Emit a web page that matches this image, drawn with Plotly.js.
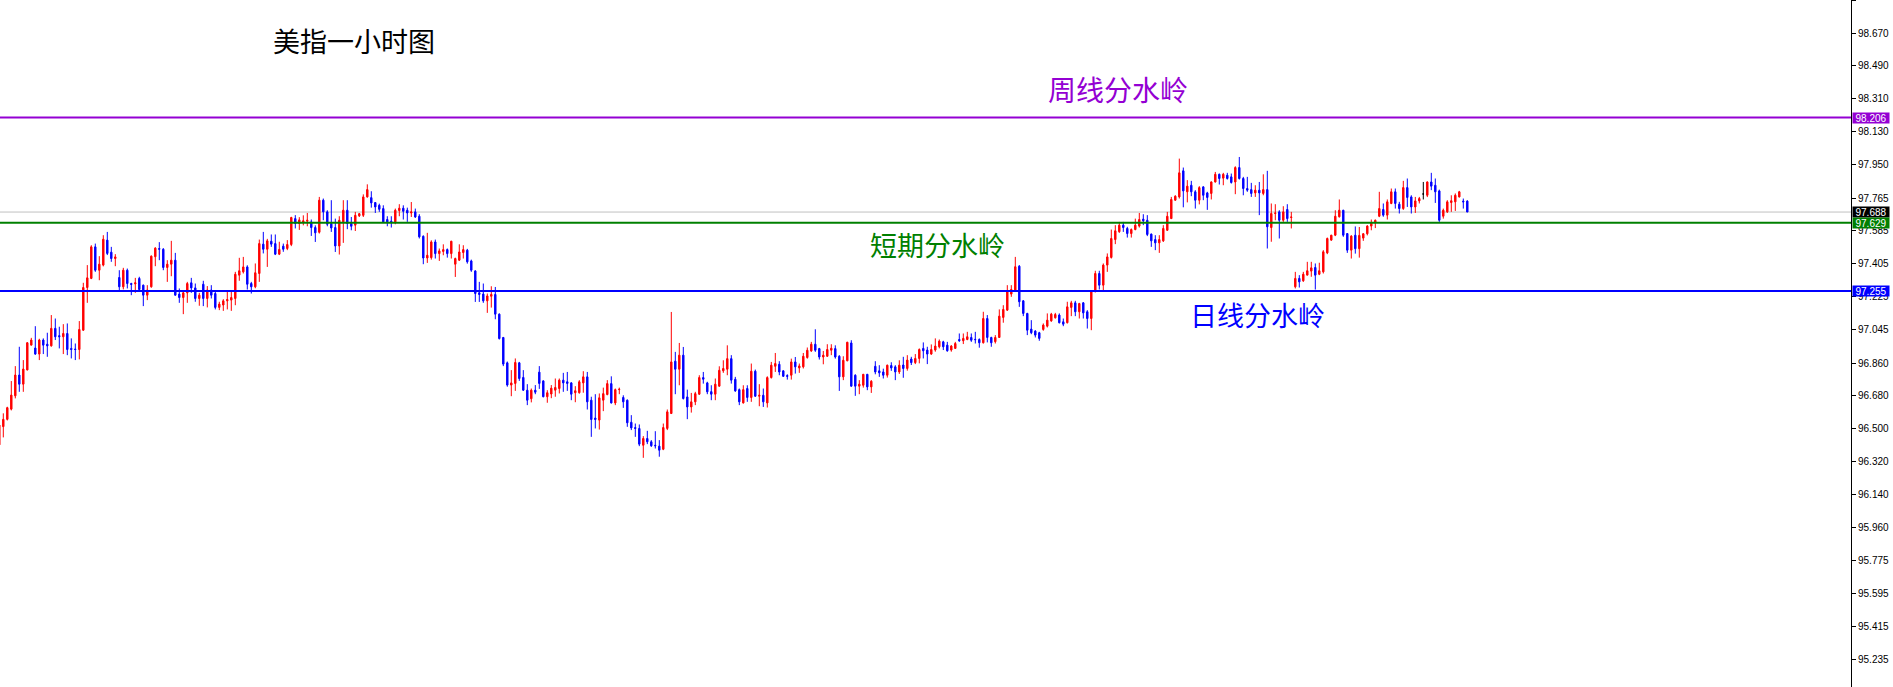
<!DOCTYPE html>
<html><head><meta charset="utf-8">
<script src="https://cdn.plot.ly/plotly-3.0.1.min.js"></script>
<style>html,body{margin:0;padding:0;background:#fff;overflow:hidden}#chart{width:1893px;height:687px}</style>
</head><body><div id="chart"></div>
<script>
// Hourly candles (oldest -> newest)
const OPEN = [
96.411,96.511,96.551,96.607,96.680,96.794,96.744,96.822,96.958,96.942,
96.909,96.986,96.963,96.954,97.050,97.010,97.004,97.022,96.940,96.937,
96.934,97.040,97.274,97.324,97.497,97.369,97.397,97.534,97.468,97.433,
97.329,97.278,97.369,97.296,97.294,97.324,97.287,97.232,97.278,97.443,
97.488,97.484,97.384,97.402,97.424,97.238,97.219,97.245,97.300,97.272,
97.214,97.292,97.214,97.260,97.241,97.165,97.178,97.201,97.205,97.214,
97.342,97.360,97.387,97.296,97.278,97.351,97.512,97.484,97.528,97.515,
97.457,97.501,97.488,97.510,97.652,97.625,97.632,97.638,97.634,97.603,
97.577,97.753,97.689,97.625,97.603,97.502,97.634,97.698,97.625,97.616,
97.667,97.670,97.771,97.767,97.740,97.725,97.707,97.647,97.638,97.634,
97.696,97.709,97.698,97.683,97.689,97.665,97.555,97.436,97.438,97.524,
97.460,97.472,97.482,97.460,97.402,97.424,97.466,97.479,97.420,97.365,
97.245,97.238,97.201,97.226,97.236,97.128,97.000,96.861,96.739,96.748,
96.861,96.781,96.711,96.664,96.711,96.810,96.762,96.675,96.690,96.711,
96.720,96.766,96.757,96.751,96.697,96.697,96.751,96.784,96.656,96.558,
96.547,96.656,96.687,96.747,96.641,96.714,96.671,96.656,96.535,96.506,
96.501,96.409,96.446,96.428,96.409,96.404,96.387,96.501,96.583,96.870,
96.826,96.903,96.674,96.619,96.647,96.689,96.780,96.751,96.703,96.689,
96.733,96.817,96.826,96.884,96.771,96.714,96.641,96.720,96.671,96.815,
96.678,96.683,96.641,96.780,96.842,96.853,96.817,96.791,96.793,96.866,
96.833,96.839,96.890,96.926,96.963,96.939,96.893,96.897,96.930,96.939,
96.897,96.784,96.872,96.970,96.793,96.733,96.738,96.798,96.729,96.842,
96.817,96.811,96.793,96.846,96.839,96.811,96.849,96.830,96.882,96.862,
96.885,96.940,96.931,96.909,96.931,96.949,96.976,96.958,96.931,96.940,
96.989,96.982,96.989,97.000,96.990,96.989,96.971,97.104,97.000,96.977,
97.000,97.110,97.150,97.238,97.260,97.391,97.201,97.132,97.046,97.035,
97.026,97.044,97.062,97.091,97.108,97.123,97.086,97.081,97.165,97.190,
97.141,97.190,97.141,97.104,97.251,97.351,97.287,97.397,97.439,97.537,
97.580,97.616,97.598,97.570,97.592,97.611,97.649,97.643,97.567,97.537,
97.519,97.530,97.588,97.652,97.753,97.771,97.914,97.799,97.835,97.799,
97.753,97.826,97.793,97.790,97.853,97.895,97.874,97.890,97.881,97.853,
97.932,97.872,97.817,97.811,97.793,97.808,97.790,97.811,97.603,97.680,
97.689,97.643,97.702,97.658,97.278,97.324,97.311,97.342,97.364,97.384,
97.347,97.360,97.464,97.534,97.561,97.662,97.698,97.570,97.479,97.561,
97.487,97.545,97.569,97.611,97.629,97.665,97.702,97.671,97.735,97.799,
97.731,97.707,97.822,97.771,97.716,97.749,97.787,97.780,97.853,97.835,
97.804,97.665,97.689,97.740,97.744,97.771,97.748,97.748];
const HIGH = [
96.525,96.584,96.620,96.761,96.843,96.949,96.876,96.975,96.998,97.062,
96.993,96.995,97.026,97.123,97.104,97.059,97.073,97.077,96.995,96.967,
97.090,97.300,97.397,97.506,97.515,97.446,97.561,97.579,97.497,97.457,
97.369,97.382,97.378,97.300,97.327,97.333,97.290,97.287,97.450,97.495,
97.523,97.490,97.424,97.530,97.464,97.269,97.260,97.305,97.327,97.296,
97.245,97.311,97.282,97.287,97.250,97.196,97.210,97.260,97.260,97.360,
97.437,97.442,97.396,97.305,97.406,97.537,97.579,97.541,97.565,97.565,
97.525,97.515,97.534,97.662,97.671,97.660,97.670,97.683,97.647,97.615,
97.771,97.762,97.698,97.753,97.652,97.665,97.753,97.753,97.661,97.689,
97.683,97.785,97.840,97.802,97.743,97.734,97.725,97.665,97.665,97.707,
97.731,97.725,97.712,97.743,97.707,97.676,97.560,97.574,97.533,97.537,
97.488,97.511,97.488,97.530,97.438,97.511,97.506,97.486,97.427,97.369,
97.305,97.296,97.241,97.281,97.277,97.132,97.003,96.868,96.821,96.885,
96.866,96.821,96.744,96.720,96.739,96.843,96.765,96.711,96.739,96.775,
96.775,96.806,96.811,96.755,96.733,96.766,96.815,96.811,96.675,96.689,
96.693,96.725,96.766,96.787,96.720,96.725,96.683,96.660,96.574,96.528,
96.523,96.459,96.488,96.437,96.486,96.437,96.528,96.605,97.140,96.921,
96.970,96.948,96.714,96.696,96.702,96.793,96.811,96.757,96.738,96.775,
96.842,96.875,96.957,96.903,96.784,96.720,96.738,96.738,96.857,96.824,
96.744,96.720,96.787,96.866,96.915,96.870,96.820,96.798,96.884,96.893,
96.857,96.915,96.945,96.976,97.045,96.943,96.926,96.963,96.963,96.957,
96.903,96.897,96.976,96.985,96.798,96.766,96.800,96.800,96.766,96.870,
96.848,96.829,96.851,96.864,96.848,96.875,96.894,96.903,96.894,96.909,
96.940,96.973,96.949,96.962,96.995,96.989,96.982,96.976,96.958,96.976,
97.022,97.022,97.031,97.022,97.031,96.995,97.141,97.123,97.004,97.013,
97.154,97.177,97.287,97.287,97.442,97.397,97.205,97.135,97.095,97.040,
97.031,97.077,97.132,97.135,97.135,97.132,97.104,97.196,97.201,97.201,
97.190,97.194,97.150,97.260,97.366,97.366,97.406,97.461,97.592,97.616,
97.634,97.634,97.607,97.598,97.652,97.683,97.676,97.671,97.570,97.561,
97.561,97.616,97.689,97.771,97.780,97.981,97.932,97.863,97.859,97.808,
97.830,97.830,97.799,97.856,97.908,97.899,97.903,97.903,97.899,97.939,
97.990,97.881,97.881,97.848,97.835,97.853,97.895,97.914,97.735,97.731,
97.698,97.720,97.731,97.689,97.360,97.342,97.360,97.415,97.415,97.406,
97.410,97.479,97.548,97.563,97.698,97.757,97.700,97.572,97.561,97.609,
97.606,97.572,97.616,97.647,97.647,97.799,97.735,97.757,97.817,97.817,
97.744,97.859,97.872,97.780,97.771,97.771,97.853,97.856,97.903,97.872,
97.811,97.707,97.753,97.780,97.790,97.804,97.762,97.753];
const LOW = [
96.400,96.452,96.545,96.600,96.666,96.702,96.702,96.820,96.958,96.905,
96.876,96.909,96.894,96.950,96.986,96.940,96.909,96.903,96.885,96.876,
96.880,97.036,97.190,97.320,97.360,97.314,97.390,97.452,97.415,97.391,
97.260,97.264,97.269,97.232,97.245,97.260,97.172,97.205,97.273,97.391,
97.424,97.369,97.305,97.336,97.230,97.190,97.128,97.190,97.245,97.196,
97.174,97.172,97.165,97.214,97.154,97.150,97.146,97.154,97.146,97.177,
97.311,97.351,97.263,97.241,97.270,97.305,97.461,97.387,97.497,97.452,
97.452,97.470,97.479,97.501,97.598,97.590,97.615,97.610,97.557,97.524,
97.570,97.643,97.610,97.579,97.469,97.455,97.519,97.594,97.588,97.584,
97.661,97.661,97.767,97.712,97.683,97.689,97.630,97.610,97.603,97.621,
97.665,97.647,97.634,97.661,97.656,97.543,97.402,97.409,97.427,97.433,
97.420,97.451,97.438,97.433,97.332,97.420,97.433,97.405,97.360,97.195,
97.195,97.190,97.135,97.164,97.100,96.989,96.843,96.730,96.678,96.707,
96.762,96.707,96.629,96.644,96.689,96.718,96.672,96.642,96.667,96.675,
96.693,96.702,96.707,96.656,96.645,96.692,96.697,96.605,96.455,96.501,
96.495,96.596,96.683,96.638,96.629,96.689,96.614,96.510,96.492,96.455,
96.404,96.340,96.415,96.400,96.391,96.346,96.382,96.492,96.580,96.689,
96.738,96.660,96.552,96.588,96.629,96.685,96.747,96.689,96.656,96.656,
96.730,96.806,96.793,96.747,96.702,96.629,96.638,96.647,96.647,96.674,
96.623,96.619,96.616,96.775,96.811,96.793,96.784,96.769,96.769,96.802,
96.806,96.830,96.884,96.921,96.921,96.879,96.853,96.893,96.903,96.884,
96.707,96.766,96.870,96.730,96.680,96.689,96.725,96.711,96.696,96.798,
96.784,96.775,96.780,96.817,96.766,96.800,96.779,96.818,96.849,96.854,
96.858,96.885,96.854,96.905,96.922,96.940,96.931,96.922,96.922,96.940,
96.976,96.964,96.985,96.976,96.967,96.944,96.967,96.973,96.949,96.967,
96.998,97.081,97.146,97.223,97.255,97.168,97.117,97.013,97.018,97.000,
96.982,97.037,97.055,97.086,97.104,97.077,97.062,97.077,97.117,97.117,
97.104,97.104,97.049,97.040,97.248,97.263,97.251,97.360,97.433,97.512,
97.574,97.579,97.548,97.548,97.588,97.603,97.616,97.556,97.497,97.479,
97.464,97.524,97.585,97.650,97.750,97.762,97.714,97.741,97.775,97.707,
97.730,97.753,97.700,97.757,97.850,97.839,97.835,97.866,97.844,97.786,
97.866,97.780,97.799,97.771,97.771,97.671,97.780,97.488,97.525,97.643,
97.543,97.634,97.634,97.598,97.269,97.274,97.305,97.342,97.333,97.263,
97.342,97.351,97.457,97.530,97.556,97.658,97.552,97.464,97.433,97.460,
97.438,97.530,97.560,97.588,97.600,97.660,97.662,97.647,97.731,97.707,
97.680,97.700,97.716,97.680,97.683,97.735,97.757,97.770,97.808,97.738,
97.634,97.652,97.683,97.689,97.694,97.768,97.707,97.688];
const CLOSE = [
96.520,96.551,96.615,96.684,96.794,96.744,96.827,96.971,96.986,96.909,
96.986,96.958,96.954,97.050,97.004,97.004,97.022,96.934,96.934,96.934,
97.044,97.274,97.327,97.497,97.369,97.402,97.539,97.461,97.433,97.442,
97.278,97.369,97.296,97.291,97.300,97.263,97.232,97.260,97.446,97.490,
97.484,97.384,97.402,97.424,97.232,97.219,97.245,97.296,97.272,97.214,
97.232,97.214,97.260,97.232,97.165,97.183,97.201,97.208,97.219,97.347,
97.366,97.387,97.292,97.278,97.355,97.515,97.484,97.530,97.512,97.457,
97.483,97.484,97.510,97.658,97.625,97.645,97.640,97.643,97.603,97.574,
97.753,97.689,97.621,97.601,97.502,97.643,97.698,97.625,97.610,97.670,
97.679,97.771,97.811,97.738,97.716,97.703,97.634,97.634,97.634,97.698,
97.709,97.692,97.683,97.689,97.661,97.552,97.436,97.451,97.524,97.460,
97.475,97.482,97.460,97.528,97.433,97.469,97.482,97.415,97.369,97.241,
97.236,97.201,97.228,97.236,97.128,96.994,96.854,96.739,96.751,96.863,
96.775,96.711,96.656,96.711,96.700,96.748,96.675,96.697,96.722,96.726,
96.766,96.751,96.748,96.689,96.708,96.757,96.784,96.647,96.550,96.550,
96.669,96.692,96.747,96.641,96.714,96.716,96.647,96.532,96.504,96.501,
96.415,96.446,96.428,96.406,96.406,96.382,96.506,96.592,96.866,96.826,
96.903,96.665,96.619,96.647,96.692,96.780,96.771,96.702,96.689,96.744,
96.820,96.830,96.884,96.766,96.707,96.647,96.714,96.671,96.815,96.678,
96.683,96.647,96.780,96.848,96.857,96.811,96.787,96.787,96.866,96.839,
96.844,96.897,96.930,96.963,96.930,96.893,96.903,96.934,96.941,96.893,
96.784,96.875,96.974,96.733,96.733,96.744,96.798,96.729,96.760,96.811,
96.806,96.793,96.848,96.833,96.811,96.848,96.830,96.876,96.862,96.885,
96.934,96.927,96.909,96.934,96.953,96.980,96.949,96.927,96.953,96.967,
96.982,96.995,97.004,96.985,96.988,96.971,97.104,97.000,96.971,97.000,
97.117,97.154,97.251,97.263,97.388,97.196,97.132,97.040,97.026,97.013,
96.995,97.068,97.095,97.128,97.126,97.081,97.073,97.168,97.190,97.141,
97.186,97.135,97.104,97.256,97.351,97.287,97.397,97.442,97.543,97.585,
97.616,97.603,97.570,97.592,97.616,97.647,97.640,97.565,97.530,97.519,
97.537,97.598,97.665,97.757,97.775,97.903,97.804,97.830,97.799,97.753,
97.822,97.780,97.768,97.853,97.895,97.872,97.895,97.872,97.850,97.932,
97.872,97.817,97.808,97.790,97.808,97.793,97.811,97.607,97.680,97.683,
97.643,97.689,97.652,97.661,97.324,97.305,97.347,97.366,97.382,97.342,
97.366,97.470,97.543,97.561,97.665,97.698,97.561,97.479,97.556,97.487,
97.560,97.569,97.611,97.629,97.643,97.707,97.671,97.744,97.799,97.735,
97.707,97.822,97.768,97.716,97.749,97.762,97.787,97.853,97.830,97.799,
97.643,97.698,97.744,97.750,97.780,97.799,97.744,97.688];

// Price-axis tick labels
const TICK_VALUES = [98.850,98.670,98.490,98.310,98.130,97.950,97.765,97.585,97.405,97.225,
  97.045,96.860,96.680,96.500,96.320,96.140,95.960,95.775,95.595,95.415,95.235];

// Horizontal levels
const LEVEL_VALUES = [98.206, 97.688, 97.629, 97.255];
const LEVEL_COLORS = ['#9400D3', '#C0C0C0', '#008000', '#0000FF'];
const LEVEL_WIDTHS = [2, 1, 2, 2];
const LEVEL_TAG_BG = ['#9400D3', '#000000', '#008000', '#0000FF'];

// Text labels on the chart
const LABEL_TEXTS = ['美指一小时图', '周线分水岭', '短期分水岭', '日线分水岭'];
const LABEL_COLORS = ['#000000', '#9400D3', '#008000', '#0000FF'];

// ---- layout geometry (pixels) ----
const PLOT_W = 1851, PLOT_H = 687;
const LABEL_POS = [[272, 40.5, 27], [1047, 89, 28], [869, 244.5, 27], [1189, 314, 27]];

const idx = OPEN.map((_, i) => i);
const mainIds = idx.filter(i => OPEN[i] !== CLOSE[i]);
const dojiIds = idx.filter(i => OPEN[i] === CLOSE[i]);
const pick = (arr, ids) => ids.map(i => arr[i]);

function candle(ids, upColor, downColor) {
  return {
    type: 'candlestick',
    x: ids,
    open: pick(OPEN, ids), high: pick(HIGH, ids), low: pick(LOW, ids), close: pick(CLOSE, ids),
    increasing: {line: {color: upColor, width: 1}, fillcolor: upColor},
    decreasing: {line: {color: downColor, width: 1}, fillcolor: downColor},
    whiskerwidth: 0, hoverinfo: 'skip', showlegend: false
  };
}
const traces = [candle(mainIds, '#FF0000', '#0000FF')];
if (dojiIds.length) traces.push(candle(dojiIds, '#000000', '#000000'));

const shapes = LEVEL_VALUES.map((v, i) => ({
  type: 'line', xref: 'paper', x0: 0, x1: 1, yref: 'y', y0: v, y1: v,
  line: {color: LEVEL_COLORS[i], width: LEVEL_WIDTHS[i]},
  layer: i === 1 ? 'below' : 'above'
}));

const annotations = [];
LABEL_TEXTS.forEach((t, i) => {
  const [px, py, fs] = LABEL_POS[i];
  annotations.push({
    text: t, showarrow: false, xref: 'paper', yref: 'paper',
    x: px / PLOT_W, y: 1 - py / PLOT_H, xanchor: 'left', yanchor: 'middle',
    font: {family: 'Noto Sans CJK SC, sans-serif', size: fs, color: LABEL_COLORS[i]},
    borderpad: 0
  });
});
LEVEL_VALUES.forEach((v, i) => {
  annotations.push({
    text: v.toFixed(3), showarrow: false, xref: 'paper', yref: 'y',
    x: 1, xanchor: 'left', xshift: 1, y: v, yanchor: 'middle',
    bgcolor: LEVEL_TAG_BG[i], width: 36, height: 10, borderpad: 0, align: 'center',
    font: {family: 'Liberation Sans, Arial, sans-serif', size: 10, color: '#FFFFFF'}
  });
});

const layout = {
  width: 1893, height: 687,
  margin: {l: 0, r: 42, t: 0, b: 0, pad: 0},
  paper_bgcolor: '#FFFFFF', plot_bgcolor: '#FFFFFF',
  showlegend: false, hovermode: false, dragmode: false,
  boxgap: 0.5,
  xaxis: {range: [0.175, 462.925], visible: false, rangeslider: {visible: false}, fixedrange: true},
  yaxis: {
    side: 'right', range: [95.083, 98.851], tickmode: 'array',
    tickvals: TICK_VALUES, ticktext: TICK_VALUES.map(v => v.toFixed(3)),
    ticks: 'outside', ticklen: 4, tickwidth: 1, tickcolor: '#000000',
    showline: true, linecolor: '#000000', linewidth: 1,
    showgrid: false, zeroline: false, fixedrange: true,
    tickfont: {family: 'Liberation Sans, Arial, sans-serif', size: 10, color: '#000000'}
  },
  shapes: shapes,
  annotations: annotations
};

Plotly.newPlot('chart', traces, layout, {staticPlot: true, displayModeBar: false});
</script>
</body></html>
